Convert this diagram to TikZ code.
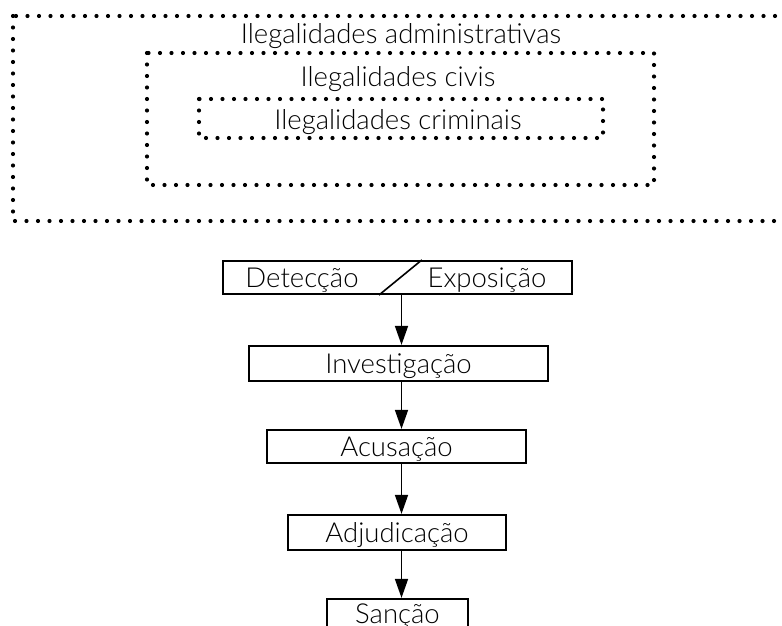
\documentclass[tikz,border=0pt]{standalone}
\usepackage{fontspec}
\setmainfont{Lato Light}
\usetikzlibrary{arrows.meta,calc}

\tikzset{
  dotbox/.style={line width=4.2pt,line cap=round,dash pattern=on 0pt off 11.5pt},
  stagebox/.style={draw,line width=2.2pt,inner sep=0pt,text height=24pt,text depth=5pt},
  arr/.style={line width=1.6pt,-{Triangle[width=13pt,length=19pt]}}
}

\begin{document}
\begin{tikzpicture}[x=1pt,y=-1pt,font=\fontsize{27.5}{32}\selectfont]
       \useasboundingbox (0,0) rectangle (782,626);
       \draw [dotbox] (13,16) rectangle (810,221);
       \draw [dotbox] (147,53) rectangle (654,185);
       \draw [dotbox] (199,99) rectangle (603,138);
       \node [anchor=base] at (401,44) (adm) {Ilegalidades administrativas};
       \node [anchor=base] at (398,86) (civ) {Ilegalidades civis};
       \node [anchor=base] at (398,129) (crim) {Ilegalidades criminais};

       \node [stagebox,minimum width=349pt,minimum height=33pt] at (397.5,277.5) (detexp) {};
       \node [inner sep=0pt,text height=24pt,text depth=5pt] at (302,277.5) (det) {Detecção};
       \node [inner sep=0pt,text height=24pt,text depth=5pt] at (487,277.5) (exp) {Exposição};
       \draw [line width=1.6pt] ($(detexp.south west)+(157,0)$) -- ($(detexp.north west)+(200,0)$);
       \node [stagebox,minimum width=299pt,minimum height=35pt] at (398.5,363.5) (inv) {Investigação};
       \node [stagebox,minimum width=259pt,minimum height=33pt] at (396.5,446.5) (acu) {Acusação};
       \node [stagebox,minimum width=218pt,minimum height=35pt] at (397,532.5) (adj) {Adjudicação};
       \node [stagebox,minimum width=141pt,minimum height=29pt] at (397.5,613.5) (san) {Sanção};

       \coordinate (ax) at (401.5,0);
       \draw [arr] (detexp.south -| ax) -- (inv.north -| ax);
       \draw [arr] (inv.south -| ax) -- (acu.north -| ax);
       \draw [arr] (acu.south -| ax) -- (adj.north -| ax);
       \draw [arr] (adj.south -| ax) -- (san.north -| ax);
      \end{tikzpicture}
\end{document}
